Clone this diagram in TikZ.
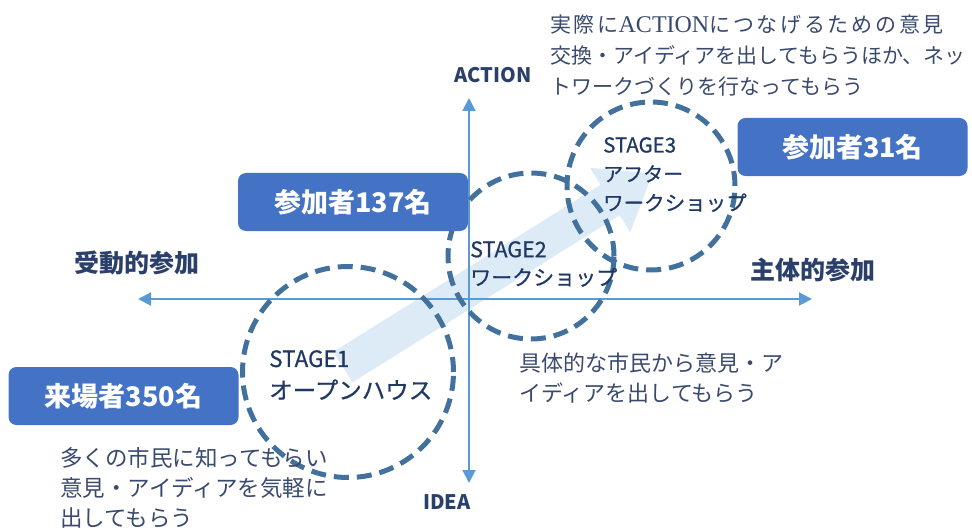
\documentclass[tikz,border=0pt]{standalone}
\usepackage{fontspec}
\setmainfont{Noto Sans CJK JP}
\newfontfamily\medfont[FakeBold=0.6]{Noto Sans CJK JP}
\newfontfamily\spacedfont[LetterSpace=13]{Noto Sans CJK JP}
\newfontfamily\serifA{Liberation Serif}
\usetikzlibrary{arrows.meta}
\definecolor{boxblue}{HTML}{4472C4}
\definecolor{ringblue}{HTML}{41719C}
\definecolor{axisblue}{HTML}{5B9BD5}
\definecolor{arrowfill}{HTML}{DDEBF7}
\definecolor{navy}{HTML}{1F3864}
\definecolor{desc}{HTML}{3A4A6E}
\definecolor{axlabel}{HTML}{2A3F6A}
\tikzset{
  box/.style={fill=boxblue, rounded corners=8pt, minimum width=230pt, minimum height=58pt, inner sep=0pt,
    text=white, font=\fontsize{27}{27}\selectfont\bfseries},
  ring/.style={circle, draw=ringblue, line width=5pt, dash pattern=on 15pt off 8pt, inner sep=0pt},
  axis/.style={draw=axisblue, line width=2pt, -{Triangle[length=13pt,width=13pt]}},
  axlab/.style={text=axlabel, inner sep=0pt, font=\fontsize{25}{25}\selectfont\bfseries},
  desctext/.style={text=desc, inner sep=0pt, anchor=north west, align=left},
  stagetext/.style={text=navy, inner sep=0pt, anchor=north west, align=left}
}
\begin{document}
\begin{tikzpicture}[x=1pt,y=-1pt]
\useasboundingbox (0,0) rectangle (972,532);

% broad light arrow
\begin{scope}[shift={(343,367)}, rotate=32]
  \fill[arrowfill] (0,-18) -- (315,-18) -- (315,-38) -- (365,0) -- (315,38) -- (315,18) -- (0,18) -- cycle;
\end{scope}

% axes
\coordinate (o) at (469,299);
\coordinate (left) at (138,299);
\coordinate (right) at (812,299);
\coordinate (top) at (469,98);
\coordinate (bottom) at (469,483);
\draw[axis] (o) -- (left);
\draw[axis] (o) -- (right);
\draw[axis] (o) -- (top);
\draw[axis] (o) -- (bottom);

% axis labels
\node[axlab] (action) at (493,75) {\fontsize{20}{20}\selectfont ACTION};
\node[axlab] (idea) at (447,502) {\fontsize{20}{20}\selectfont IDEA};
\node[axlab] (passive) at (137,263) {受動的参加};
\node[axlab] (active) at (813,270) {主体的参加};

% stage circles
\node[ring, minimum size=211pt] (s1) at (348,372) {};
\node[ring, minimum size=166pt] (s2) at (531,256) {};
\node[ring, minimum size=168pt] (s3) at (651,186) {};

% stage labels
\node[stagetext, font=\medfont\fontsize{22.5}{32}\selectfont] (t1) at (269,350) {STAGE1\\\fontsize{23.5}{32}\selectfont オープンハウス};
\node[stagetext, font=\medfont\fontsize{21.5}{28}\selectfont] (t2) at (470,241) {STAGE2\\\fontsize{21}{28}\selectfont ワークショップ};
\node[stagetext, font=\medfont\fontsize{20.5}{29}\selectfont] (t3) at (603,137) {STAGE3\\\fontsize{20}{29}\selectfont アフター\\ワークショップ};

% count boxes
\node[box] (b1) at (123.5,396) {来場者350名};
\node[box] (b2) at (353,202) {参加者137名};
\node[box] (b3) at (852.5,147) {参加者31名};

% descriptions
\node[desctext, font=\fontsize{21}{31}\selectfont] (d3) at (550,15) {{\spacedfont 実際に}{\serifA\fontsize{24}{31}\selectfont ACTION}{\spacedfont につなげるための意見}\\交換・アイディアを出してもらうほか、ネッ\\トワークづくりを行なってもらう};
\node[desctext, font=\fontsize{22}{30}\selectfont] (d2) at (519,353) {具体的な市民から意見・ア\\イディアを出してもらう};
\node[desctext, font=\fontsize{22.5}{30}\selectfont] (d1) at (60,447) {多くの市民に知ってもらい\\意見・アイディアを気軽に\\出してもらう};
\end{tikzpicture}
\end{document}
